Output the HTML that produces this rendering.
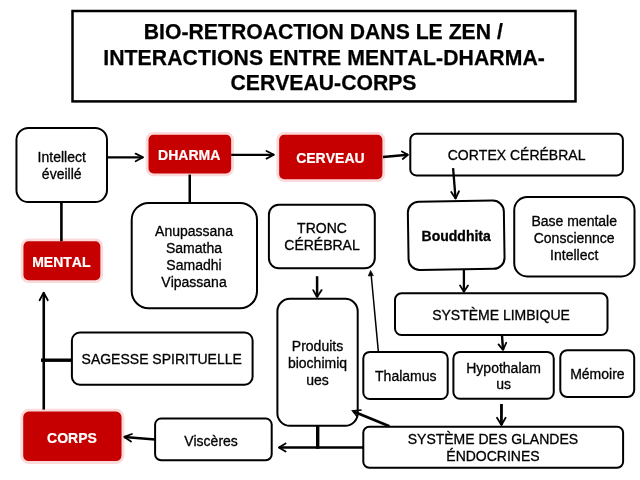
<!DOCTYPE html>
<html>
<head>
<meta charset="utf-8">
<title>Bio-retroaction dans le Zen</title>
<style>
  html, body { margin: 0; padding: 0; background: #ffffff; }
  body { width: 640px; height: 480px; overflow: hidden; font-family: "Liberation Sans", sans-serif; }
  svg { display: block; will-change: transform; }
  text { font-kerning: none; font-family: "Liberation Sans", sans-serif; font-size: 14px; fill: #000; text-anchor: middle; stroke: #000; stroke-width: 0.3px; }
  .title { font-size: 21.2px; font-weight: bold; stroke-width: 0.25px; }
  .w { fill: #ffffff; font-weight: bold; stroke: #fff; stroke-width: 0.2px; }
  .b { font-weight: bold; }
  .box { fill: #ffffff; stroke: #000000; stroke-width: 2; }
  .red { fill: #c60000; stroke: #fadada; stroke-width: 2.8; }
  .ln { stroke: #000; fill: none; stroke-linecap: butt; }
  .hd { stroke: #000; fill: none; stroke-width: 1.8; stroke-linecap: round; stroke-linejoin: round; }
</style>
</head>
<body>
<svg width="640" height="480" viewBox="0 0 640 480">
  <rect x="0" y="0" width="640" height="480" fill="#ffffff"/>

  <!-- Title -->
  <rect x="72.5" y="11" width="503" height="90.4" fill="#fff" stroke="#000" stroke-width="2.5"/>
  <text class="title" x="323.3" y="38.8">BIO-RETROACTION DANS LE ZEN /</text>
  <text class="title" x="324.1" y="64.5" style="letter-spacing:0.08px">INTERACTIONS ENTRE MENTAL-DHARMA-</text>
  <text class="title" x="323.5" y="90.2">CERVEAU-CORPS</text>

  <!-- Boxes -->
  <rect class="box" x="16.45" y="127.9" width="90.55" height="74.2" rx="12" ry="12"/>
  <rect class="box" x="410.3" y="133.7" width="212.6" height="41.7" rx="6" ry="6"/>
  <rect class="box" x="131.7" y="202.9" width="125.3" height="105.4" rx="17" ry="17"/>
  <rect class="box" x="268.9" y="204.7" width="105.9" height="63.6" rx="10" ry="10"/>
  <rect class="box" x="408.2" y="201.1" width="96" height="68.3" rx="11" ry="11" transform="rotate(-0.85 456.2 235.2)"/>
  <rect class="box" x="514.25" y="197.05" width="120.25" height="79.35" rx="13" ry="13"/>
  <rect class="box" x="71.9" y="332.5" width="180.7" height="52.25" rx="8" ry="8"/>
  <rect class="box" x="277.4" y="298.8" width="80.3" height="127" rx="12.5" ry="12.5"/>
  <rect class="box" x="395" y="293.3" width="212.5" height="41.7" rx="6.5" ry="6.5"/>
  <rect class="box" x="363.3" y="351.9" width="84.4" height="47.1" rx="6.5" ry="6.5"/>
  <rect class="box" x="453.4" y="351.9" width="100.35" height="46.9" rx="6.5" ry="6.5"/>
  <rect class="box" x="560.3" y="350.2" width="73.9" height="46.8" rx="7" ry="7"/>
  <rect class="box" x="155.1" y="418.6" width="116.6" height="41.65" rx="6" ry="6"/>
  <rect class="box" x="363.3" y="426.7" width="259.8" height="41.1" rx="6" ry="6"/>

  <!-- Red boxes -->
  <rect class="red" x="147.1" y="133.4" width="85.45" height="41.45" rx="6.5" ry="6.5"/>
  <rect class="red" x="277.75" y="133.3" width="106.05" height="47.3" rx="6.5" ry="6.5"/>
  <rect class="red" x="22.05" y="239.9" width="79.7" height="41.7" rx="6.5" ry="6.5"/>
  <rect class="red" x="21.8" y="410.15" width="101.15" height="52.35" rx="7" ry="7"/>

  <!-- connector lines -->
  <line class="ln" x1="61.4" y1="202" x2="61.4" y2="241.2" stroke-width="2.6"/>
  <line class="ln" x1="189.75" y1="174.6" x2="189.75" y2="203" stroke-width="2.5"/>
  <line class="ln" x1="43.75" y1="409.6" x2="43.75" y2="292.6" stroke-width="2.6"/>
  <polyline class="hd" points="39.6,300.2 43.7,292.6 47.8,300.2"/>
  <line class="ln" x1="41" y1="360.2" x2="72" y2="360.2" stroke-width="3.4"/>
  <line class="ln" x1="317.7" y1="425" x2="317.7" y2="448.8" stroke-width="3.4"/>

  <!-- Arrows -->
  <!-- Intellect -> DHARMA -->
  <line class="ln" x1="107.00" y1="157.30" x2="143.10" y2="157.30" stroke-width="2.3"/>
  <polyline class="hd" points="135.60,153.60 143.10,157.30 135.60,161.20"/>
  <!-- DHARMA -> CERVEAU -->
  <line class="ln" x1="231.20" y1="154.80" x2="273.95" y2="154.80" stroke-width="2.3"/>
  <polyline class="hd" points="266.50,151.00 273.95,154.80 266.50,158.60"/>
  <!-- CERVEAU -> CORTEX -->
  <line class="ln" x1="383.00" y1="157.00" x2="407.95" y2="154.82" stroke-width="2.4"/>
  <polyline class="hd" points="401.90,151.50 407.95,154.82 402.75,159.00"/>
  <!-- CORTEX -> Bouddhita -->
  <line class="ln" x1="453.10" y1="168.10" x2="455.54" y2="198.60" stroke-width="2.3"/>
  <polyline class="hd" points="451.25,191.90 455.54,198.60 459.00,191.25"/>
  <!-- TRONC -> Produits -->
  <line class="ln" x1="317.10" y1="276.20" x2="317.10" y2="296.95" stroke-width="2.5"/>
  <polyline class="hd" points="313.20,290.10 317.10,296.95 321.65,290.10"/>
  <!-- Bouddhita -> SL -->
  <line class="ln" x1="463.90" y1="269.00" x2="463.90" y2="291.70" stroke-width="2.3"/>
  <polyline class="hd" points="460.00,285.40 463.90,291.70 468.00,285.40"/>
  <!-- SL -> Hypothalamus -->
  <line class="ln" x1="502.00" y1="335.50" x2="503.04" y2="349.80" stroke-width="2.4"/>
  <polyline class="hd" points="498.50,344.40 503.04,349.80 506.25,342.75"/>
  <!-- Hypothalamus -> Endocrines -->
  <line class="ln" x1="501.50" y1="404.00" x2="501.40" y2="424.95" stroke-width="2.8"/>
  <polyline class="hd" points="497.00,417.80 501.40,424.95 505.60,417.80"/>
  <!-- Endocrines -> Visceres -->
  <line class="ln" x1="363.30" y1="447.50" x2="278.90" y2="447.50" stroke-width="2.7"/>
  <polyline class="hd" points="285.60,443.50 278.90,447.50 285.60,451.50"/>
  <!-- Visceres -> CORPS -->
  <line class="ln" x1="155.10" y1="439.40" x2="124.30" y2="436.96" stroke-width="2.5"/>
  <polyline class="hd" points="131.90,434.00 124.30,436.96 131.00,441.50"/>
  <!-- Thalamus -> TRONC -->
  <line class="ln" x1="378.4" y1="352" x2="371.1" y2="274" stroke-width="1.5"/>
  <polygon points="370.6,270.4 368.2,276 373.4,275.6" fill="#000" stroke="#000" stroke-width="0.6"/>
  <!-- Endocrines -> Produits (diag) -->
  <line class="ln" x1="389.4" y1="426.3" x2="353.5" y2="411.4" stroke-width="2.7"/>
  <polyline class="ln" points="361.6,410 352.6,410.9 357.6,417" stroke-width="1.5"/>

  <!-- Labels -->
  <text x="61.7" y="162.4">Intellect</text>
  <text x="61.7" y="179.1">éveillé</text>
  <text class="w" x="189.2" y="160">DHARMA</text>
  <text class="w" x="330.4" y="162.5">CERVEAU</text>
  <text x="516.6" y="160.1">CORTEX CÉRÉBRAL</text>
  <text class="w" x="61.3" y="267">MENTAL</text>
  <text x="194" y="235.5">Anupassana</text>
  <text x="194" y="252.5">Samatha</text>
  <text x="194" y="269.5">Samadhi</text>
  <text x="194" y="286.5">Vipassana</text>
  <text x="322" y="233">TRONC</text>
  <text x="322" y="250.3">CÉRÉBRAL</text>
  <text class="b" x="456.2" y="241.2">Bouddhita</text>
  <text x="574.2" y="225.5">Base mentale</text>
  <text x="574.2" y="242.5">Consciennce</text>
  <text x="574.2" y="259.5">Intellect</text>
  <text x="161.7" y="364.3">SAGESSE SPIRITUELLE</text>
  <text x="317.5" y="351.3">Produits</text>
  <text x="317.5" y="367.6">biochimiq</text>
  <text x="317.5" y="384.5">ues</text>
  <text x="501" y="320">SYSTÈME LIMBIQUE</text>
  <text x="405.8" y="381.3">Thalamus</text>
  <text x="503.6" y="373">Hypothalam</text>
  <text x="503.6" y="389.1">us</text>
  <text x="597.4" y="378.8">Mémoire</text>
  <text class="w" x="72" y="442.5">CORPS</text>
  <text x="211" y="446.3">Viscères</text>
  <text x="492.9" y="444.2">SYSTÈME DES GLANDES</text>
  <text x="493" y="461.3">ÉNDOCRINES</text>
</svg>
</body>
</html>
